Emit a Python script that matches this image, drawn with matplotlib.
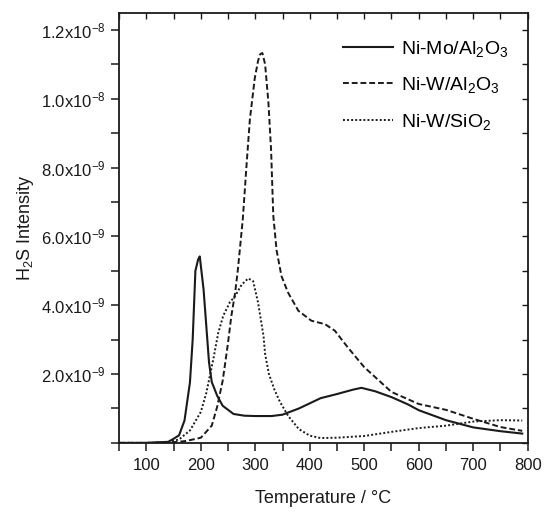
import matplotlib

matplotlib.use("Agg")
import matplotlib.pyplot as plt
from matplotlib.ticker import MultipleLocator, FixedLocator, FixedFormatter, NullFormatter

plt.rcParams["font.family"] = ["Liberation Sans", "DejaVu Sans"]
plt.rcParams["mathtext.fontset"] = "custom"
plt.rcParams["mathtext.rm"] = "Liberation Sans"
plt.rcParams["mathtext.it"] = "Liberation Sans:italic"
plt.rcParams["mathtext.bf"] = "Liberation Sans:bold"

# --- data (temperature in °C, intensity in units of 1e-9) ---
mo_t = [50, 100, 140, 150, 160, 170, 180, 185, 190, 195, 198, 205, 210, 215, 220, 230, 240,
        260, 280, 300, 330, 350, 380, 400, 420, 450, 480, 495, 520, 550, 580, 600, 650, 700, 750, 790]
mo_i = [0.0, 0.0, 0.03, 0.12, 0.22, 0.65, 1.76, 3.0, 5.0, 5.33, 5.42, 4.46, 3.4, 2.34, 1.77, 1.37, 1.08,
        0.84, 0.79, 0.78, 0.78, 0.82, 1.0, 1.15, 1.3, 1.42, 1.55, 1.6, 1.5, 1.33, 1.12, 0.95, 0.66, 0.45, 0.34, 0.27]

wal_t = [50, 100, 150, 170, 180, 200, 220, 230, 240, 244, 250, 256, 263, 268, 277, 284, 290, 299, 305,
         309, 313, 318, 324, 329, 333, 339, 348, 360, 379, 403, 428, 446, 470, 500, 550, 600, 650, 700,
         750, 790]
wal_i = [0.0, 0.0, 0.02, 0.05, 0.08, 0.15, 0.5, 1.05, 1.8, 2.24, 2.92, 3.69, 4.37, 5.04, 6.5, 8.1, 9.4,
         10.6, 11.1, 11.3, 11.33, 11.0, 9.9, 8.5, 6.6, 5.6, 4.85, 4.37, 3.84, 3.55, 3.45, 3.26, 2.77, 2.2,
         1.48, 1.13, 0.96, 0.7, 0.46, 0.35]

wsi_t = [50, 100, 140, 160, 180, 200, 210, 223, 232, 241, 253, 263, 275, 287, 296, 305, 315, 318,
         325, 335, 345, 360, 380, 400, 420, 450, 500, 550, 600, 650, 700, 750, 790]
wsi_i = [0.0, 0.0, 0.02, 0.1, 0.36, 0.9, 1.45, 2.44, 3.2, 3.69, 4.08, 4.27, 4.6, 4.78, 4.7, 4.08, 3.11,
         2.58, 2.0, 1.55, 1.2, 0.79, 0.4, 0.21, 0.14, 0.15, 0.2, 0.32, 0.43, 0.5, 0.62, 0.66, 0.65]

labels = [r"Ni-Mo/Al$_2$O$_3$", r"Ni-W/Al$_2$O$_3$", r"Ni-W/SiO$_2$"]
ytick_vals = [2e-9, 4e-9, 6e-9, 8e-9, 1.0e-8, 1.2e-8]
ytick_text = [r"2.0x10$^{-9}$", r"4.0x10$^{-9}$", r"6.0x10$^{-9}$", r"8.0x10$^{-9}$",
              r"1.0x10$^{-8}$", r"1.2x10$^{-8}$"]

fig = plt.figure(figsize=(5.44, 5.12), dpi=100)
ax = fig.add_axes([0.219, 0.135, 0.751, 0.840])

scale = 1e-9
ink = "#1a1a1a"
ax.plot(mo_t, [v * scale for v in mo_i], color=ink, lw=1.5, ls="-", label=labels[0])
ax.plot(wal_t, [v * scale for v in wal_i], color=ink, lw=1.4, ls=(0, (3.0, 1.5)), label=labels[1])
ax.plot(wsi_t, [v * scale for v in wsi_i], color=ink, lw=1.4, ls=(0, (1.0, 1.1)), label=labels[2])

ax.set_xlim(50, 800)
ax.set_ylim(0, 1.25e-8)

ax.xaxis.set_major_locator(MultipleLocator(100))
ax.xaxis.set_minor_locator(MultipleLocator(50))
ax.yaxis.set_major_locator(FixedLocator(ytick_vals))
ax.yaxis.set_major_formatter(FixedFormatter(ytick_text))
ax.yaxis.set_minor_locator(MultipleLocator(1e-9))
ax.yaxis.set_minor_formatter(NullFormatter())
ax.tick_params(which="both", direction="out", length=6, width=1.1, labelsize=12, colors=ink,
               top=False, right=False)
ax.tick_params(axis="x", pad=5)

for side in ("left", "bottom", "top", "right"):
    ax.spines[side].set_linewidth(1.3)
    ax.spines[side].set_color(ink)

# inward ticks on top and right
top = ax.secondary_xaxis("top")
top.xaxis.set_major_locator(MultipleLocator(50))
top.tick_params(direction="in", length=4, width=1.0, labeltop=False, colors=ink)
top.spines["top"].set_visible(False)
right = ax.secondary_yaxis("right")
right.yaxis.set_major_locator(MultipleLocator(1e-9))
right.tick_params(direction="in", length=4, width=1.0, labelright=False, colors=ink)
right.spines["right"].set_visible(False)

ax.set_xlabel("Temperature / °C", fontsize=13, color=ink, labelpad=12)
ax.set_ylabel(r"H$_2$S Intensity", fontsize=13, color=ink, labelpad=4)

ax.legend(loc="upper right", fontsize=14, frameon=False, handlelength=2.6, handletextpad=0.4,
          labelspacing=0.85, borderaxespad=0.6, bbox_to_anchor=(1.0, 0.985))

fig.savefig("out.png", dpi=100, facecolor="white")
